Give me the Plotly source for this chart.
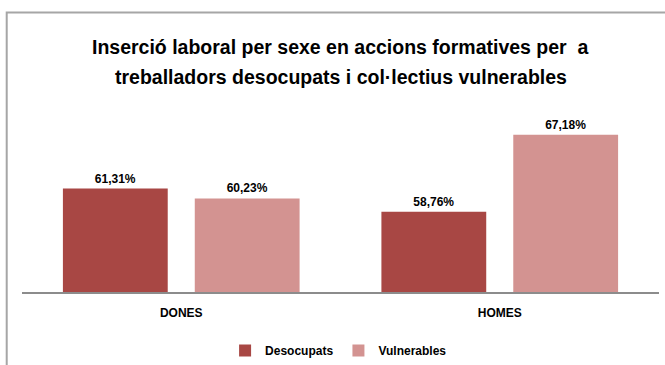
import plotly.graph_objects as go

# Labour insertion rates (%) by sex and training group
categories = ["DONES", "HOMES"]
series_names = ["Desocupats", "Vulnerables"]
desocupats = [61.31, 58.76]
vulnerables = [60.23, 67.18]
series_values = [desocupats, vulnerables]
series_colors = ["#A84744", "#D39391"]

title_lines = ["Inserció laboral per sexe en accions formatives per  a",
               "treballadors desocupats i col·lectius vulnerables"]

FONT = "Liberation Sans, Arial, sans-serif"

# plot area in pixels (used to place the frame and title lines)
PLOT_TOP, PLOT_BOTTOM = 109, 292
PLOT_H = PLOT_BOTTOM - PLOT_TOP


def py(pix):
    """pixel row -> paper y coordinate"""
    return (PLOT_BOTTOM - pix) / PLOT_H


def pct_label(v):
    return f"{v:.2f}".replace(".", ",") + "%"


fig = go.Figure()
for name, vals, col in zip(series_names, series_values, series_colors):
    fig.add_trace(go.Bar(
        name=f"<b>{name}</b>",
        x=categories,
        y=vals,
        marker=dict(color=col, line=dict(width=0)),
        text=[f"<b>{pct_label(v)}</b>" for v in vals],
        textposition="outside",
        textfont=dict(family=FONT, size=12, color="#000000"),
        cliponaxis=False,
    ))

annotations = [
    dict(text=f"<b>{line}</b>", xref="paper", yref="paper",
         x=0.5, y=py(yc), xanchor="center", yanchor="middle",
         showarrow=False,
         font=dict(family=FONT, size=19.5, color="#000000"))
    for line, yc in zip(title_lines, [47, 77])
]

fig.update_layout(
    width=665,
    height=365,
    margin=dict(l=22, r=6, t=PLOT_TOP, b=365 - PLOT_BOTTOM, autoexpand=False),
    paper_bgcolor="white",
    plot_bgcolor="white",
    barmode="group",
    bargap=0.172,
    bargroupgap=0.205,
    xaxis=dict(
        showline=True, linecolor="#8C8C8C", linewidth=2,
        ticks="", showgrid=False,
        tickfont=dict(family=FONT, size=12, color="#000000"),
        tickvals=categories,
        ticktext=[f"<b>{c}</b>" for c in categories],
        ticklabelstandoff=9,
    ),
    yaxis=dict(range=[50, 70], visible=False, showgrid=False),
    legend=dict(
        orientation="h",
        x=0.497, xanchor="center",
        y=py(336), yanchor="top",
        font=dict(family=FONT, size=12, color="#000000"),
        itemwidth=30,
        traceorder="normal",
    ),
    showlegend=True,
    annotations=annotations,
    shapes=[
        dict(type="path", xref="paper", yref="paper",
             path=f"M -0.024,-1 L -0.024,{py(12.5):.4f} L 1.2,{py(12.5):.4f}",
             line=dict(color="#A6A6A6", width=2)),
    ],
)

fig.write_html("out.html")
